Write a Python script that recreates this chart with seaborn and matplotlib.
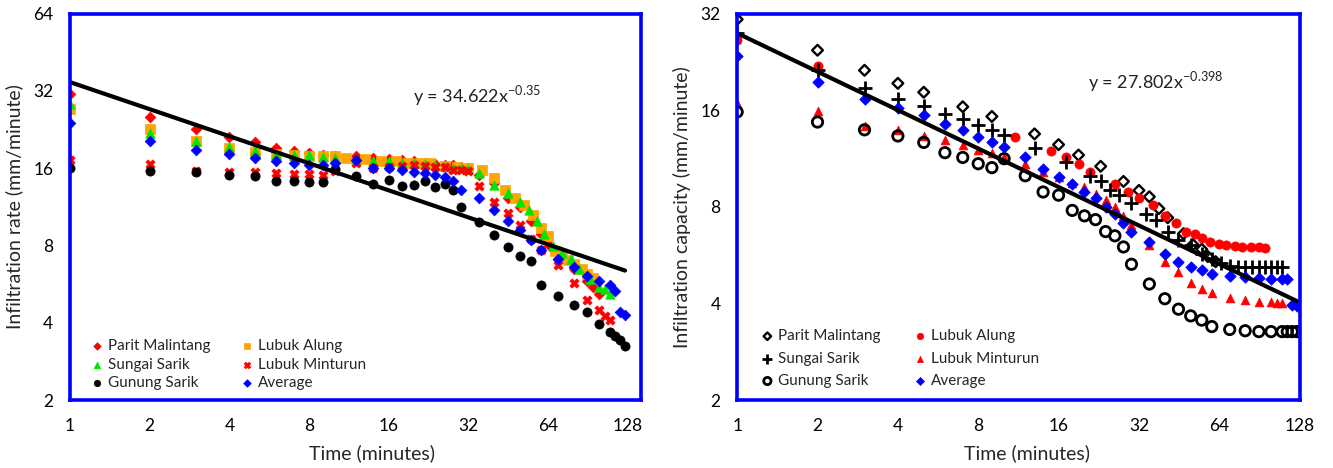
import numpy as np
import pandas as pd
import matplotlib
matplotlib.use("Agg")
import matplotlib.pyplot as plt
import seaborn as sns
from matplotlib.ticker import FixedLocator, FixedFormatter, NullLocator

sns.set_style("white")
plt.rcParams['font.family'] = ['Lato', 'DejaVu Sans']

# ---------------- Left chart data (Infiltration rate) ----------------
pm_l_t = [1,2,3,4,5,6,7,8,9,10,12,14,16,18,20,22,24,26,28,30,32,35,40,45,50,55,60,65,70,80,90,95,100]
pm_l_v = [31.1,25.4,22.7,21.1,20.2,19.2,18.6,18.3,18.0,17.9,17.8,17.6,17.4,17.2,17.0,16.8,16.6,16.5,16.4,16.2,16.0,15.0,14.0,12.2,11.3,10.0,8.9,8.0,7.1,6.5,5.8,5.5,5.2]

la_l_t = [1,2,3,4,5,6,7,8,9,10,11,13,15,17,19,21,23,26,29,32,36,40,44,48,52,56,60,64,68,72,76,80,86,90,95]
la_l_v = [27.2,22.8,20.4,19.2,18.5,18.2,18.0,17.9,17.9,17.8,17.5,17.4,17.1,17.0,16.8,16.8,16.7,16.3,16.2,16.0,15.8,14.6,13.2,12.2,11.5,10.5,9.4,8.7,7.6,7.3,7.0,6.8,6.5,6.2,6.0]

ss_l_t = [1,2,3,4,5,6,7,8,9,10,12,14,16,18,20,22,24,26,28,30,32,35,40,45,50,54,58,62,67,72,78,84,92,100,105,110]
ss_l_v = [28.4,22.0,20.4,19.3,18.7,18.2,18.0,18.0,17.7,17.6,17.4,17.1,17.0,16.8,16.7,16.6,16.5,16.3,16.1,16.0,15.9,15.3,13.8,12.8,11.8,11.0,10.0,8.9,8.0,7.5,7.1,6.5,5.9,5.5,5.4,5.2]

lm_l_t = [1,2,3,4,5,6,7,8,9,10,12,14,16,18,20,22,24,26,28,30,32,35,40,45,50,55,60,70,80,90,100,105,110]
lm_l_v = [17.2,16.6,15.6,15.5,15.4,15.3,15.2,15.2,15.1,15.6,16.8,16.0,16.2,16.3,16.4,16.3,16.2,16.2,15.8,15.8,15.6,13.6,11.8,10.7,9.6,8.5,7.7,6.7,5.7,4.9,4.5,4.25,4.1]

gs_l_t = [1,2,3,4,5,6,7,8,9,10,12,14,16,18,20,22,24,26,28,30,35,40,45,50,55,60,70,80,90,100,110,115,120,125]
gs_l_v = [16.1,15.6,15.4,15.1,14.9,14.3,14.3,14.2,14.2,15.9,14.9,13.9,14.4,13.7,13.8,14.3,13.5,13.9,13.2,11.3,9.9,8.8,7.9,7.3,6.95,5.6,5.1,4.7,4.4,3.95,3.69,3.55,3.43,3.26]

av_l_t = [1,2,3,4,5,6,7,8,9,10,12,14,16,18,20,22,24,26,28,30,35,40,45,50,55,60,70,80,90,100,110,115,120,125]
av_l_v = [24.0,20.5,18.9,18.1,17.6,17.1,16.8,16.5,16.5,16.7,17.2,16.0,16.0,15.8,15.5,15.3,15.1,14.8,14.3,13.2,12.2,11.0,10.0,9.2,8.4,7.7,7.1,6.6,6.1,5.8,5.6,5.3,4.4,4.3]

# ---------------- Right chart data (Infiltration capacity) ----------------
pm_r_t = [1,2,3,4,5,7,9,13,16,19,23,28,32,35,38,41,47,51,55,58,62]
pm_r_v = [30.7,24.6,21.3,19.4,18.2,16.4,15.3,13.5,12.5,11.6,10.7,9.6,9.0,8.6,7.9,7.4,6.6,6.1,5.9,5.6,5.4]

la_r_t = [1,2,11,15,17,19,21,26,29,32,36,40,44,48,52,55,59,64,68,73,78,84,90,95]
la_r_v = [26.5,21.9,13.2,11.9,11.4,10.9,10.3,9.4,8.9,8.5,8.1,7.5,7.1,6.7,6.6,6.4,6.2,6.15,6.1,6.05,6.0,6.0,6.0,5.95]

ss_r_t = [1,2,3,4,5,6,7,8,9,10,13,17,21,23,25,27,30,34,37,41,45,50,55,60,65,70,75,80,85,90,95,100,105,110]
ss_r_v = [27.9,21.3,18.8,17.4,16.5,15.6,15.0,14.4,13.9,13.4,12.2,11.0,10.0,9.6,9.05,8.7,8.2,7.6,7.3,6.7,6.3,6.1,5.7,5.5,5.35,5.25,5.2,5.2,5.2,5.2,5.2,5.2,5.2,5.2]

lm_r_t = [1,2,3,4,5,6,7,8,9,10,12,14,16,18,20,22,24,26,28,30,35,40,45,50,55,60,70,80,90,100,105,110]
lm_r_v = [16.9,15.9,14.3,13.9,13.3,12.9,12.5,12.0,11.8,11.4,10.9,10.3,9.9,9.5,9.2,8.8,8.4,8.0,7.5,7.0,6.1,5.4,5.0,4.65,4.44,4.3,4.17,4.09,4.05,4.03,4.02,4.02]

gs_r_t = [1,2,3,4,5,6,7,8,9,10,12,14,16,18,20,22,24,26,28,30,35,40,45,50,55,60,70,80,90,100,110,115,120,125]
gs_r_v = [15.8,14.7,13.9,13.3,12.7,11.8,11.4,10.9,10.6,11.3,10.0,8.9,8.7,7.8,7.5,7.3,6.7,6.5,6.0,5.3,4.6,4.14,3.84,3.66,3.55,3.39,3.32,3.29,3.27,3.27,3.27,3.27,3.27,3.27]

av_r_t = [1,2,3,4,5,6,7,8,9,10,12,14,16,18,20,22,24,26,28,30,35,40,45,50,55,60,70,80,90,100,110,115,120,125]
av_r_v = [23.6,19.6,17.4,16.3,15.5,14.5,13.9,13.2,12.7,12.3,11.4,10.5,9.9,9.4,8.9,8.5,8.0,7.6,7.1,6.7,6.2,5.7,5.4,5.2,5.07,4.96,4.88,4.82,4.8,4.78,4.78,4.78,3.96,3.94]

# Power-law trend lines (from the chart equations)
trend_l = (34.622, -0.35)
trend_r = (27.802, -0.398)
trend_t = [1, 2, 4, 8, 16, 32, 64, 125]

x_ticks = [1, 2, 4, 8, 16, 32, 64, 128]
y_ticks_l = [2, 4, 8, 16, 32, 64]
y_ticks_r = [2, 4, 8, 16, 32]

BLUE = "#0000FF"
RED = "#FF0000"
ORANGE = "#FFA500"
GREEN = "#00E600"

fig = plt.figure(figsize=(13.33, 4.68), dpi=100)
axL = fig.add_axes([0.0525, 0.145, 0.428, 0.826])
axR = fig.add_axes([0.553, 0.145, 0.422, 0.826])


def draw(ax, x, y, label, **kw):
    sns.scatterplot(x=x, y=y, ax=ax, label=label, legend=False, **kw)


def style_axes(ax, yticks, ylim, xlim, ylabel, xlab_x):
    ax.set_xscale("log", base=2)
    ax.set_yscale("log", base=2)
    ax.set_xlim(*xlim)
    ax.set_ylim(*ylim)
    ax.xaxis.set_major_locator(FixedLocator(x_ticks))
    ax.xaxis.set_major_formatter(FixedFormatter([str(t) for t in x_ticks]))
    ax.xaxis.set_minor_locator(NullLocator())
    ax.yaxis.set_major_locator(FixedLocator(yticks))
    ax.yaxis.set_major_formatter(FixedFormatter([str(t) for t in yticks]))
    ax.yaxis.set_minor_locator(NullLocator())
    ax.tick_params(axis="both", length=0, labelsize=12.5, colors="black")
    ax.tick_params(axis="x", pad=13)
    ax.tick_params(axis="y", pad=12)
    for s in ax.spines.values():
        s.set_visible(True)
        s.set_color(BLUE)
        s.set_linewidth(2.6)
    ax.grid(False)
    ax.set_xlabel("Time (minutes)", fontsize=14, labelpad=4)
    ax.xaxis.set_label_coords(xlab_x, -0.113)
    ax.set_ylabel(ylabel, fontsize=14, labelpad=7)


# ---- Left
draw(axL, pm_l_t, pm_l_v, "Parit Malintang", marker="D", color=RED, s=30, edgecolor=RED, linewidth=0.5)
draw(axL, la_l_t, la_l_v, "Lubuk Alung", marker="s", color=ORANGE, s=44, edgecolor=ORANGE, linewidth=0.5)
draw(axL, ss_l_t, ss_l_v, "Sungai Sarik", marker="^", color=GREEN, s=46, edgecolor=GREEN, linewidth=0.5)
draw(axL, lm_l_t, lm_l_v, "Lubuk Minturun", marker="X", color=RED, s=44, edgecolor=RED, linewidth=0.5)
draw(axL, gs_l_t, gs_l_v, "Gunung Sarik", marker="o", color="black", s=44, edgecolor="black", linewidth=0.5)
draw(axL, av_l_t, av_l_v, "Average", marker="D", color=BLUE, s=30, edgecolor=BLUE, linewidth=0.5)
tl = np.array(trend_t, dtype=float)
sns.lineplot(x=tl, y=trend_l[0] * tl ** trend_l[1], ax=axL, color="black", linewidth=3, legend=False)
style_axes(axL, y_ticks_l, (2, 64), (1, 143), "Infiltration rate (mm/minute)", 0.53)
axL.text(0.601, 0.788, r"y = 34.622x$^{\mathregular{-0.35}}$", transform=axL.transAxes,
         fontsize=13, color="#222222", va="center")

# ---- Right
draw(axR, pm_r_t, pm_r_v, "Parit Malintang", marker="D", s=30, facecolor="none", edgecolor="black", linewidth=1.7)
draw(axR, la_r_t, la_r_v, "Lubuk Alung", marker="o", color=RED, s=44, edgecolor=RED, linewidth=0.5)
draw(axR, ss_r_t, ss_r_v, "Sungai Sarik", marker="+", color="black", s=90, linewidth=2)
draw(axR, lm_r_t, lm_r_v, "Lubuk Minturun", marker="^", color=RED, s=40, edgecolor=RED, linewidth=0.5)
draw(axR, gs_r_t, gs_r_v, "Gunung Sarik", marker="o", s=56, facecolor="none", edgecolor="black", linewidth=2)
draw(axR, av_r_t, av_r_v, "Average", marker="D", color=BLUE, s=34, edgecolor=BLUE, linewidth=0.5)
sns.lineplot(x=tl, y=trend_r[0] * tl ** trend_r[1], ax=axR, color="black", linewidth=3, legend=False)
style_axes(axR, y_ticks_r, (2, 32), (1, 128), "Infiltration capacity (mm/minute)", 0.516)
axR.text(0.623, 0.825, r"y = 27.802x$^{\mathregular{-0.398}}$", transform=axR.transAxes,
         fontsize=13, color="#222222", va="center")

order = ["Parit Malintang", "Sungai Sarik", "Gunung Sarik", "Lubuk Alung", "Lubuk Minturun", "Average"]
for ax, anchor, lsp, csp in ((axL, (0.026, 0.010), 0.30, 2.0), (axR, (0.032, 0.0155), 0.55, 2.2)):
    h, l = ax.get_legend_handles_labels()
    d = dict(zip(l, h))
    ax.legend([d[k] for k in order], order, ncol=2, loc="lower left", bbox_to_anchor=anchor,
              frameon=False, fontsize=11, handletextpad=0.3, handlelength=0.8, columnspacing=csp,
              labelspacing=lsp, markerscale=0.7, borderaxespad=0)

fig.savefig("out.png", dpi=100, facecolor="white")
